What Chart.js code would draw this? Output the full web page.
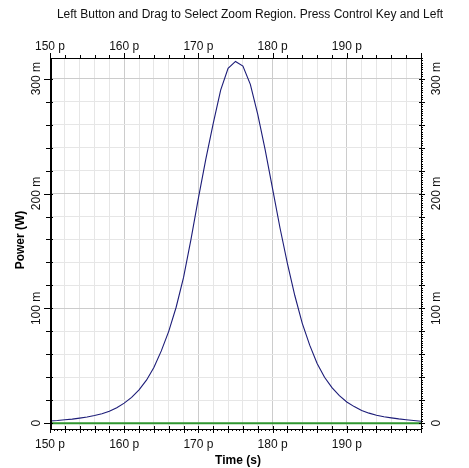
<!DOCTYPE html>
<html>
<head>
<meta charset="utf-8">
<script src="https://cdn.jsdelivr.net/npm/chart.js@4.4.1/dist/chart.umd.min.js"></script>
<style>
  html, body { margin: 0; padding: 0; background: #fff; }
  canvas { display: block; }
</style>
</head>
<body>
<canvas id="c" width="469" height="468"></canvas>
<script>
// Pulse power vs time. Time in ps, power in mW (labels carry the unit suffix).
const TITLE = 'Left Button and Drag to Select Zoom Region. Press Control Key and Left';

const TIME_P = [
  150, 151, 152, 153, 154, 155, 156, 157, 158, 159,
  160, 161, 162, 163, 164, 165, 166, 167, 168, 169,
  170, 171, 172, 173, 174, 175, 176, 177, 178, 179,
  180, 181, 182, 183, 184, 185, 186, 187, 188, 189,
  190, 191, 192, 193, 194, 195, 196, 197, 198, 199, 200
];
const POWER_MW = [
  2.0, 2.4, 3.0, 3.6, 4.5, 5.5, 6.7, 8.3, 10.5, 13.5,
  17.5, 22.5, 29, 37.5, 48.5, 63, 80, 101, 127, 160,
  196, 230, 261, 290, 309, 315, 311, 295, 269, 238,
  204, 170, 139, 111, 87, 68, 52, 40, 31, 24,
  18.5, 14.5, 11.2, 8.8, 7.0, 5.7, 4.7, 3.8, 3.1, 2.4, 1.8
];
// second trace: flat at zero across the window
const BASE_T = [150, 200];
const BASE_P = [0, 0];

const X_LABEL_TICKS = [150, 160, 170, 180, 190];
const X_LABELS = ['150 p', '160 p', '170 p', '180 p', '190 p'];
const Y_LABEL_TICKS = [0, 100, 200, 300];
const Y_LABELS = ['0', '100 m', '200 m', '300 m'];

const FONT = '"Liberation Sans", Arial, sans-serif';

function pts(xs, ys) { return xs.map((x, i) => ({ x, y: ys[i] })); }

// frame, tick marks and all text drawn around the plot area
const decor = {
  id: 'decor',
  afterDraw(chart) {
    const { ctx, chartArea: a, scales: { x, y } } = chart;
    ctx.save();
    ctx.strokeStyle = '#000';
    ctx.lineWidth = 1;

    const line = (x1, y1, x2, y2) => { ctx.beginPath(); ctx.moveTo(x1, y1); ctx.lineTo(x2, y2); ctx.stroke(); };

    // frame
    const L = Math.round(a.left), R = Math.round(a.right), T = Math.round(a.top), B = Math.round(a.bottom);
    line(L, T + 0.5, R, T + 0.5);
    line(L, B + 0.5, R + 1, B + 0.5);
    line(R + 0.5, T, R + 0.5, B + 1);
    ctx.lineWidth = 2;
    line(L + 1, T, L + 1, B + 1);
    ctx.lineWidth = 1;

    // x ticks: top and bottom
    for (let v = 150; v <= 200; v += 2) {
      const px = Math.round(x.getPixelForValue(v)) + 0.5;
      const major = v % 10 === 0;
      line(px, T, px, T - (major ? 5 : 3));
      line(px, B - 3, px, B + 4);
    }
    for (let v = 150; v <= 200; v += 0.5) {
      const px = Math.round(x.getPixelForValue(v)) + 0.5;
      line(px, B, px, B + 2);
    }
    // y ticks: left and right
    for (let v = 0; v <= 300; v += 20) {
      const py = Math.round(y.getPixelForValue(v)) + 0.5;
      const major = v % 100 === 0;
      line(L - (major ? 6 : 4), py, L + 3, py);
      line(R - 2, py, R + 4, py);
    }
    for (let v = -4; v <= 318; v += 2) {
      const py = Math.round(y.getPixelForValue(v)) + 0.5;
      line(R, py, R + 2, py);
    }

    ctx.fillStyle = '#111';
    ctx.textAlign = 'center';
    ctx.textBaseline = 'middle';
    ctx.font = '12px ' + FONT;
    ctx.fillText(TITLE, 250, 15);

    X_LABEL_TICKS.forEach((v, i) => {
      const px = x.getPixelForValue(v);
      ctx.fillText(X_LABELS[i], px, 47);
      ctx.fillText(X_LABELS[i], px, 445);
    });
    Y_LABEL_TICKS.forEach((v, i) => {
      const py = y.getPixelForValue(v);
      [37, 437].forEach((cx) => {
        ctx.save();
        ctx.translate(cx, py);
        ctx.rotate(-Math.PI / 2);
        ctx.fillText(Y_LABELS[i], 0, 0);
        ctx.restore();
      });
    });

    ctx.fillStyle = '#000';
    ctx.font = 'bold 12px ' + FONT;
    ctx.fillText('Time (s)', 238, 461);
    ctx.save();
    ctx.translate(21, 240);
    ctx.rotate(-Math.PI / 2);
    ctx.fillText('Power (W)', 0, 0);
    ctx.restore();
    ctx.restore();
  }
};

new Chart(document.getElementById('c'), {
  type: 'line',
  data: {
    datasets: [
      { data: pts(BASE_T, BASE_P), borderColor: '#2f962f', borderWidth: 2, pointRadius: 0, tension: 0 },
      { data: pts(TIME_P, POWER_MW), borderColor: '#1c1c78', borderWidth: 1.1, pointRadius: 0, tension: 0 },
    ],
  },
  options: {
    responsive: false, animation: false, devicePixelRatio: 1,
    layout: { padding: { left: 50, right: 48, top: 58, bottom: 39 } },
    plugins: { legend: { display: false }, tooltip: { enabled: false } },
    scales: {
      x: {
        type: 'linear', min: 150, max: 200,
        afterBuildTicks: (s) => { s.ticks = []; for (let v = 150; v <= 200; v += 2) s.ticks.push({ value: v }); },
        ticks: { display: false },
        border: { display: false },
        grid: { drawTicks: false, color: (c) => (c.tick && c.tick.value % 10 === 0 ? '#cccccc' : '#e6e6e6') },
      },
      y: {
        type: 'linear', min: -5, max: 318,
        afterBuildTicks: (s) => { s.ticks = []; for (let v = 0; v <= 300; v += 20) s.ticks.push({ value: v }); },
        ticks: { display: false },
        border: { display: false },
        grid: { drawTicks: false, color: (c) => (c.tick && c.tick.value % 100 === 0 ? '#cccccc' : '#e6e6e6') },
      },
    },
  },
  plugins: [decor],
});
</script>
</body>
</html>
